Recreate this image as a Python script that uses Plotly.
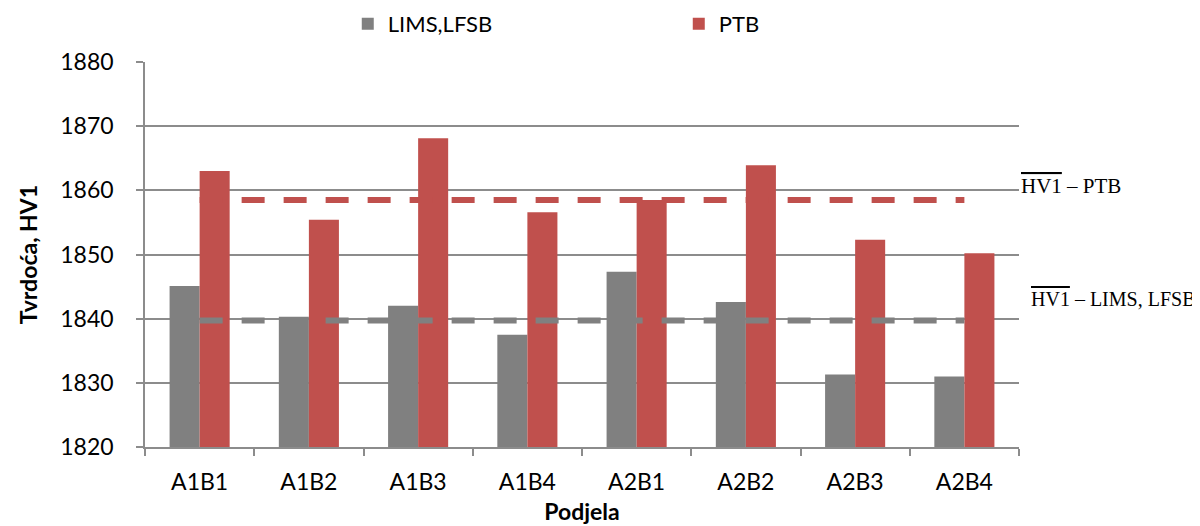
import plotly.graph_objects as go

categories = ["A1B1", "A1B2", "A1B3", "A1B4", "A2B1", "A2B2", "A2B3", "A2B4"]
lims_lfsb = [1845.1, 1840.3, 1842.0, 1837.5, 1847.3, 1842.6, 1831.3, 1831.0]
ptb = [1863.0, 1855.4, 1868.1, 1856.6, 1858.5, 1863.9, 1852.3, 1850.2]
ptb_mean = 1858.5
lims_mean = 1839.7
y_ticks = [1820, 1830, 1840, 1850, 1860, 1870, 1880]

GREY = "#808080"
RED = "#C0504D"
AXIS = "#8C8C8C"
FONT = "Lato"

fig = go.Figure()
fig.add_trace(go.Bar(x=categories, y=[v - 1820 for v in lims_lfsb], base=1820,
                     name="LIMS,LFSB", marker=dict(color=GREY, line=dict(width=0))))
fig.add_trace(go.Bar(x=categories, y=[v - 1820 for v in ptb], base=1820,
                     name="PTB", marker=dict(color=RED, line=dict(width=0))))
fig.add_trace(go.Scatter(x=categories, y=[ptb_mean] * len(categories), mode="lines",
                         showlegend=False,
                         line=dict(color=RED, width=6, dash="23px,19px")))
fig.add_trace(go.Scatter(x=categories, y=[lims_mean] * len(categories), mode="lines",
                         showlegend=False,
                         line=dict(color=GREY, width=6, dash="23px,19px")))

fig.update_layout(
    width=1192, height=518,
    margin=dict(l=137, r=181, t=54, b=78.5, autoexpand=False),
    paper_bgcolor="white", plot_bgcolor="white",
    barmode="group", bargap=0.45, bargroupgap=0,
    font=dict(family=FONT, size=23, color="black"),
    legend=dict(orientation="h", x=0.232, xanchor="left", y=1.099, yanchor="middle",
                entrywidth=286, entrywidthmode="pixels",
                font=dict(family=FONT, size=22, color="black"),
                bgcolor="rgba(0,0,0,0)"),
    xaxis=dict(showline=True, linecolor=AXIS, linewidth=1.5,
               ticks="outside", tickson="boundaries", ticklen=7, tickcolor=AXIS,
               tickwidth=1.5, showgrid=False, ticklabelstandoff=14,
               title=dict(text="<b>Podjela</b>", standoff=10,
                          font=dict(family=FONT, size=23))),
    yaxis=dict(range=[1820, 1880], tickvals=y_ticks, showline=True, linecolor=AXIS,
               linewidth=1.5, ticks="outside", ticklen=7, tickcolor=AXIS, tickwidth=1.5,
               showgrid=True, gridcolor=AXIS, gridwidth=1.5, zeroline=False,
               ticklabelstandoff=18,
               title=dict(text="<b>Tvrdoća, HV1</b>", standoff=16,
                          font=dict(family=FONT, size=23))),
)

fig.add_annotation(xref="paper", yref="paper", x=1.0011, y=0.678, xanchor="left",
                   yanchor="middle", showarrow=False, bgcolor="white", borderpad=0,
                   text="<span style='text-decoration:overline'>HV1</span> – PTB",
                   font=dict(family="Liberation Serif", size=21, color="black"))
fig.add_annotation(xref="paper", yref="paper", x=1.0126, y=0.385, xanchor="left",
                   yanchor="middle", showarrow=False, bgcolor="white", borderpad=0,
                   text="<span style='text-decoration:overline'>HV1</span> – LIMS, LFSB",
                   font=dict(family="Liberation Serif", size=20, color="black"))

fig.write_html("out.html")
